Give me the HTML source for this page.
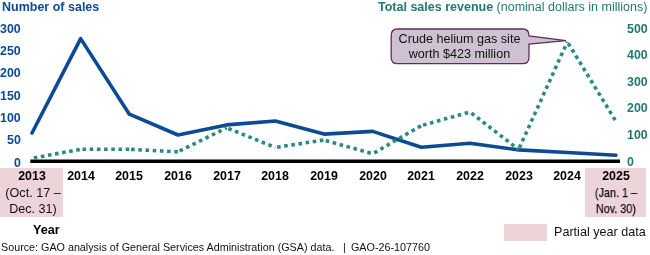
<!DOCTYPE html>
<html><head><meta charset="utf-8">
<style>
html,body{margin:0;padding:0;background:#fff;}
body{width:650px;height:255px;overflow:hidden;position:relative;font-family:"Liberation Sans",sans-serif;}
.t{position:absolute;white-space:nowrap;line-height:1;}
.b{font-weight:bold;}
svg{position:absolute;left:0;top:0;}
.t{will-change:transform;}
</style></head>
<body>
<div style="position:absolute;left:0;top:168.3px;width:63px;height:49px;background:#ecd4d8;"></div>
<div style="position:absolute;left:585px;top:168.3px;width:61px;height:49px;background:#ecd4d8;"></div>
<div style="position:absolute;left:503.5px;top:224px;width:43.7px;height:17px;background:#ecd4d8;"></div>
<div class="t b" style="left:1.5px;top:1.32px;font-size:12.5px;color:#0b4a94;">Number of sales</div>
<div class="t" style="left:377.8px;top:0.52px;font-size:12.5px;color:#1f7a73;"><b>Total sales revenue</b> (nominal dollars in millions)</div>
<div class="t b" style="right:628.95px;top:22.70px;font-size:12.4px;color:#0b4a94;">300</div>
<div class="t b" style="right:628.95px;top:45.05px;font-size:12.4px;color:#0b4a94;">250</div>
<div class="t b" style="right:628.95px;top:67.40px;font-size:12.4px;color:#0b4a94;">200</div>
<div class="t b" style="right:628.95px;top:89.75px;font-size:12.4px;color:#0b4a94;">150</div>
<div class="t b" style="right:628.95px;top:112.10px;font-size:12.4px;color:#0b4a94;">100</div>
<div class="t b" style="right:628.95px;top:134.45px;font-size:12.4px;color:#0b4a94;">50</div>
<div class="t b" style="right:628.95px;top:156.80px;font-size:12.4px;color:#0b4a94;">0</div>
<div class="t b" style="left:626.6px;top:22.50px;font-size:12.4px;color:#1f7a73;">500</div>
<div class="t b" style="left:626.6px;top:49.12px;font-size:12.4px;color:#1f7a73;">400</div>
<div class="t b" style="left:626.6px;top:75.74px;font-size:12.4px;color:#1f7a73;">300</div>
<div class="t b" style="left:626.6px;top:102.36px;font-size:12.4px;color:#1f7a73;">200</div>
<div class="t b" style="left:626.6px;top:128.98px;font-size:12.4px;color:#1f7a73;">100</div>
<div class="t b" style="left:626.6px;top:155.60px;font-size:12.4px;color:#1f7a73;">0</div>
<div class="t b" style="left:2.00px;width:60px;text-align:center;top:169.80px;font-size:12.4px;color:#000;">2013</div>
<div class="t b" style="left:50.67px;width:60px;text-align:center;top:169.80px;font-size:12.4px;color:#000;">2014</div>
<div class="t b" style="left:99.33px;width:60px;text-align:center;top:169.80px;font-size:12.4px;color:#000;">2015</div>
<div class="t b" style="left:148.00px;width:60px;text-align:center;top:169.80px;font-size:12.4px;color:#000;">2016</div>
<div class="t b" style="left:196.67px;width:60px;text-align:center;top:169.80px;font-size:12.4px;color:#000;">2017</div>
<div class="t b" style="left:245.33px;width:60px;text-align:center;top:169.80px;font-size:12.4px;color:#000;">2018</div>
<div class="t b" style="left:294.00px;width:60px;text-align:center;top:169.80px;font-size:12.4px;color:#000;">2019</div>
<div class="t b" style="left:342.67px;width:60px;text-align:center;top:169.80px;font-size:12.4px;color:#000;">2020</div>
<div class="t b" style="left:391.33px;width:60px;text-align:center;top:169.80px;font-size:12.4px;color:#000;">2021</div>
<div class="t b" style="left:440.00px;width:60px;text-align:center;top:169.80px;font-size:12.4px;color:#000;">2022</div>
<div class="t b" style="left:488.67px;width:60px;text-align:center;top:169.80px;font-size:12.4px;color:#000;">2023</div>
<div class="t b" style="left:537.33px;width:60px;text-align:center;top:169.80px;font-size:12.4px;color:#000;">2024</div>
<div class="t b" style="left:586.00px;width:60px;text-align:center;top:169.80px;font-size:12.4px;color:#000;">2025</div>
<div class="t" style="left:0.6px;width:64px;text-align:center;top:186.93px;font-size:12.6px;color:#111;">(Oct. 17 –</div>
<div class="t" style="left:0.6px;width:64px;text-align:center;top:202.73px;font-size:12.6px;color:#111;">Dec. 31)</div>
<div class="t" style="left:584.4px;width:64px;text-align:center;transform:scaleX(0.858);-webkit-text-stroke:0.25px #111;top:187.23px;font-size:12.6px;color:#111;">(Jan. 1 –</div>
<div class="t" style="left:584.4px;width:64px;text-align:center;transform:scaleX(0.858);-webkit-text-stroke:0.25px #111;top:203.03px;font-size:12.6px;color:#111;">Nov. 30)</div>
<div class="t b" style="left:33px;top:223.93px;font-size:12.6px;color:#000;">Year</div>
<div class="t" style="left:554.3px;top:225.93px;font-size:12.6px;color:#111;transform:scaleY(1.08);transform-origin:0 10.67px;">Partial year data</div>
<div class="t" style="left:1.3px;top:242.30px;font-size:10.75px;color:#111;">Source: GAO analysis of General Services Administration (GSA) data.</div>
<div class="t" style="left:342.6px;top:242.30px;font-size:10.75px;color:#111;">|</div>
<div class="t" style="left:351.2px;top:242.30px;font-size:10.75px;color:#111;">GAO-26-107760</div>
<svg width="650" height="255" viewBox="0 0 650 255">
<line x1="30.3" y1="161.15" x2="620" y2="161.15" stroke="#000" stroke-width="3.5"/>
<polyline fill="none" stroke="#0b4a94" stroke-width="3.6" stroke-linejoin="round" stroke-linecap="round" points="32.00,133.0 80.67,38.6 129.33,114.2 178.00,135.0 226.67,124.9 275.33,121.0 324.00,134.1 372.67,131.4 421.33,147.3 470.00,143.2 518.67,149.9 567.33,152.5 616.00,155.2"/>
<g stroke="#2b8a83" stroke-width="3.6" stroke-dasharray="3.6 3.6" stroke-dashoffset="5.4" fill="none">
<line x1="32.00" y1="158.3" x2="80.67" y2="149.3"/>
<line x1="80.67" y1="149.3" x2="129.33" y2="149.3"/>
<line x1="129.33" y1="149.3" x2="178.00" y2="151.8"/>
<line x1="178.00" y1="151.8" x2="226.67" y2="127.8"/>
<line x1="226.67" y1="127.8" x2="275.33" y2="147.5"/>
<line x1="275.33" y1="147.5" x2="324.00" y2="140.0"/>
<line x1="324.00" y1="140.0" x2="372.67" y2="153.8"/>
<line x1="372.67" y1="153.8" x2="421.33" y2="125.6"/>
<line x1="421.33" y1="125.6" x2="470.00" y2="112.0"/>
<line x1="470.00" y1="112.0" x2="518.67" y2="149.5"/>
<line x1="518.67" y1="149.5" x2="567.33" y2="41.8"/>
<line x1="567.33" y1="41.8" x2="616.00" y2="121.5"/>
</g>
<path d="M397.5,29 H522.5 Q529,29 529,35.5 V36 L566,40.6 L529,44 V57.2 Q529,63.7 522.5,63.7 H397.5 Q391.2,63.7 391.2,57.2 V35.5 Q391.2,29 397.5,29 Z" fill="#cdc1d2" stroke="#5b2e5f" stroke-width="1.3"/>
<text x="459.5" y="43" font-family="Liberation Sans" font-size="12.6" text-anchor="middle" fill="#111">Crude helium gas site</text>
<text x="459.4" y="58.3" font-family="Liberation Sans" font-size="12.6" text-anchor="middle" fill="#111">worth $423 million</text>
</svg>
</body></html>
